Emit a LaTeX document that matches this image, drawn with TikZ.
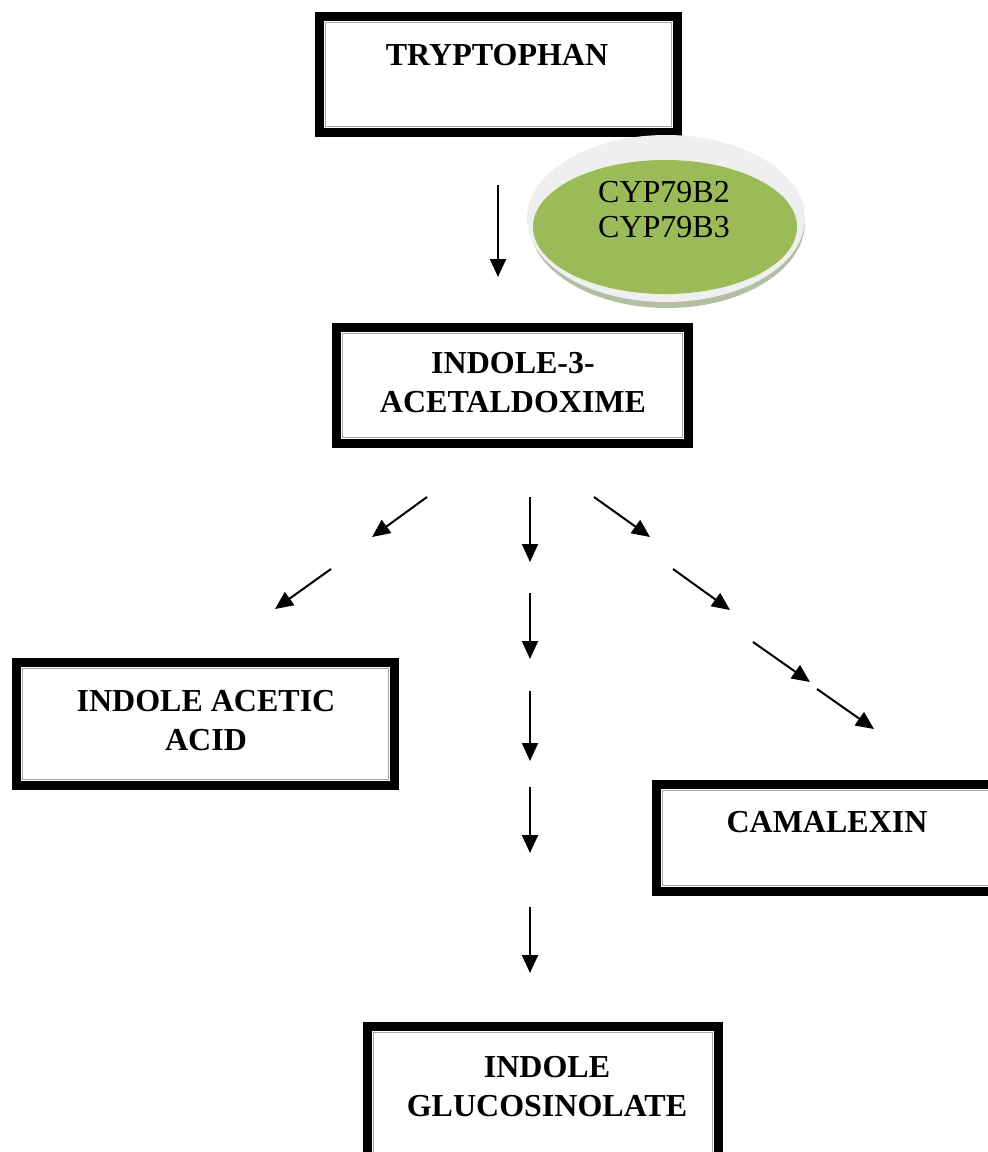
\documentclass[tikz,border=0pt]{standalone}
\usepackage{fontspec}
\setmainfont{Liberation Serif}
\usetikzlibrary{arrows.meta,shapes.geometric}
\definecolor{enzgreen}{HTML}{9BBB59}
\definecolor{ringgrey}{HTML}{EFEFEF}
\definecolor{rimgrey}{HTML}{B4BEA4}
\newcommand{\dblbox}[4]{%
  \node[boxframe, minimum width=#3pt, minimum height=#4pt] (#1) at (#2) {};
  \draw[innerframe] ([xshift=8pt,yshift=-8pt]#1.north west) rectangle ([xshift=-8pt,yshift=8pt]#1.south east);
  \draw[greyframe] ([xshift=10.5pt,yshift=-10.5pt]#1.north west) rectangle ([xshift=-10.5pt,yshift=10.5pt]#1.south east);}
\begin{document}
\begin{tikzpicture}[x=1pt,y=-1pt,
  boxframe/.style={draw=black, line width=8pt, fill=white, inner sep=0pt, rectangle},
  innerframe/.style={draw=black, line width=2pt},
  greyframe/.style={draw=black!35, line width=0.8pt},
  lbl/.style={font=\fontsize{32}{39}\selectfont\bfseries, align=center, inner sep=0pt},
  enzlbl/.style={font=\fontsize{32}{35}\selectfont, align=center, inner sep=0pt},
  arr/.style={line width=2pt, -{Triangle[length=18pt,width=16pt]}}]
\useasboundingbox (0,0) rectangle (988,1152);
\clip (0,0) rectangle (988,1152);
\fill[white] (0,0) rectangle (988,1152);

% boxes
\dblbox{trp}{498.5,74.5}{359}{117}
\dblbox{iaox}{512.5,385.5}{353}{117}
\dblbox{iaa}{205.5,724}{379}{124}
\dblbox{cam}{836,838}{360}{108}
\dblbox{glu}{543,1098.5}{352}{145}

% labels
\node[lbl] (trptxt) at (497,55) {TRYPTOPHAN};
\node[lbl] (iaoxtxt) at (513,383) {INDOLE-3-\\ACETALDOXIME};
\node[lbl] (iaatxt) at (206,721) {INDOLE ACETIC\\ACID};
\node[lbl] (camtxt) at (827,822) {CAMALEXIN};
\node[lbl] (glutxt) at (547,1087) {INDOLE\\GLUCOSINOLATE};

% enzyme disc
\fill[rimgrey] (667,222) ellipse [x radius=138pt, y radius=86pt];
\fill[ringgrey] (666,218.5) ellipse [x radius=139pt, y radius=83.5pt];
\node[ellipse, fill=enzgreen, minimum width=264pt, minimum height=134pt, inner sep=0pt] (enz) at (665,227) {};
\node[enzlbl] (enztxt) at (664,210) {CYP79B2\\CYP79B3};

% arrow end points
\coordinate (a0s) at (498,185);  \coordinate (a0e) at (498,277);
\coordinate (l1s) at (427,497);  \coordinate (l1e) at (372,537);
\coordinate (l2s) at (331,569);  \coordinate (l2e) at (275,609);
\coordinate (m1s) at (530,497);  \coordinate (m1e) at (530,562);
\coordinate (m2s) at (530,593);  \coordinate (m2e) at (530,659);
\coordinate (m3s) at (530,691);  \coordinate (m3e) at (530,761);
\coordinate (m4s) at (530,787);  \coordinate (m4e) at (530,853);
\coordinate (m5s) at (530,907);  \coordinate (m5e) at (530,973);
\coordinate (r1s) at (594,497);  \coordinate (r1e) at (650,537);
\coordinate (r2s) at (673,569);  \coordinate (r2e) at (730,610);
\coordinate (r3s) at (753,642);  \coordinate (r3e) at (810,682);
\coordinate (r4s) at (817,689);  \coordinate (r4e) at (874,729);

\foreach \a in {a0,l1,l2,m1,m2,m3,m4,m5,r1,r2,r3,r4}
  \draw[arr] (\a s) -- (\a e);
\end{tikzpicture}
\end{document}
